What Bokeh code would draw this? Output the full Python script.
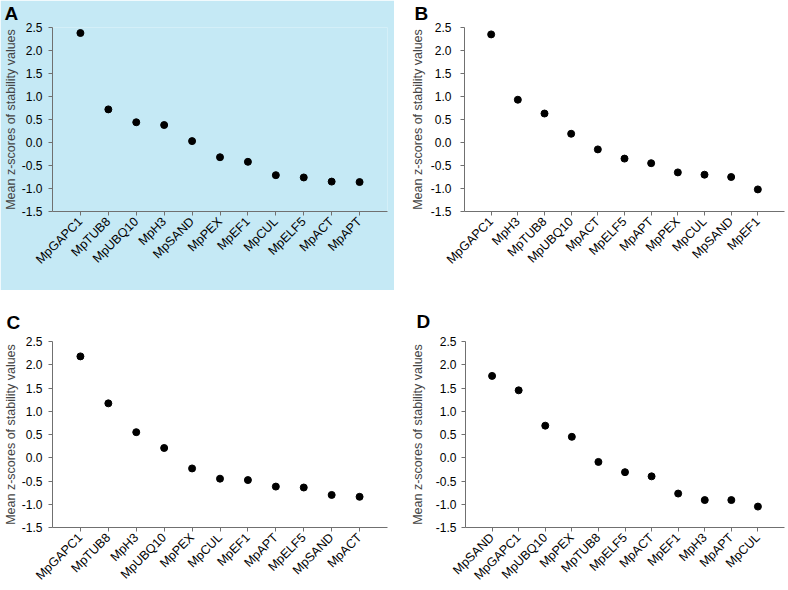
from bokeh.plotting import figure
from bokeh.models import Range1d, FactorRange, FixedTicker, NumeralTickFormatter
from bokeh.layouts import column, row
from bokeh.embed import file_html
from bokeh.resources import INLINE
from math import pi

# ---- data ----
genes_a = ["MpGAPC1", "MpTUB8", "MpUBQ10", "MpH3", "MpSAND", "MpPEX", "MpEF1", "MpCUL", "MpELF5", "MpACT", "MpAPT"]
z_a = [2.38, 0.72, 0.44, 0.38, 0.03, -0.32, -0.42, -0.71, -0.76, -0.85, -0.86]

genes_b = ["MpGAPC1", "MpH3", "MpTUB8", "MpUBQ10", "MpACT", "MpELF5", "MpAPT", "MpPEX", "MpCUL", "MpSAND", "MpEF1"]
z_b = [2.35, 0.93, 0.63, 0.19, -0.15, -0.35, -0.45, -0.65, -0.70, -0.75, -1.02]

genes_c = ["MpGAPC1", "MpTUB8", "MpH3", "MpUBQ10", "MpPEX", "MpCUL", "MpEF1", "MpAPT", "MpELF5", "MpSAND", "MpACT"]
z_c = [2.18, 1.17, 0.55, 0.21, -0.23, -0.45, -0.48, -0.62, -0.64, -0.80, -0.84]

genes_d = ["MpSAND", "MpGAPC1", "MpUBQ10", "MpPEX", "MpTUB8", "MpELF5", "MpACT", "MpEF1", "MpH3", "MpAPT", "MpCUL"]
z_d = [1.76, 1.45, 0.69, 0.45, -0.09, -0.31, -0.40, -0.77, -0.91, -0.91, -1.05]

y_ticks = [-1.5, -1.0, -0.5, 0.0, 0.5, 1.0, 1.5, 2.0, 2.5]
y_label = "Mean z-scores of stability values"

FONT = "Liberation Sans"
AXIS_COLOR = "#707070"
BLUE = "#c5e9f5"


def panel(letter, genes, vals, width, height, bl, br, bt, bb, tick_standoff, label_standoff,
          letter_dx, letter_standoff, bg=None):
    p = figure(width=width, height=height, output_backend="svg", toolbar_location=None,
               x_range=FactorRange(*genes, range_padding=1 / 11, range_padding_units="percent"),
               y_range=Range1d(-1.5, 2.5),
               min_border_left=bl, min_border_right=br, min_border_top=bt, min_border_bottom=bb)
    p.scatter(genes, vals, size=7, color="black")
    p.xgrid.visible = False
    p.ygrid.visible = False
    p.outline_line_color = None
    if bg is not None:
        p.background_fill_color = bg
        p.border_fill_color = bg
    else:
        p.background_fill_color = None
        p.border_fill_color = "white"

    # panel letter as the figure title
    p.title.text = letter
    p.title.text_font = FONT
    p.title.text_font_style = "bold"
    p.title.text_font_size = "19px"
    p.title.text_color = "black"
    p.title.align = "left"
    p.title.vertical_align = "top"
    p.title.offset = letter_dx
    p.title.standoff = letter_standoff

    p.yaxis.ticker = FixedTicker(ticks=y_ticks)
    p.yaxis.formatter = NumeralTickFormatter(format="0.0")
    p.yaxis.axis_label = y_label
    p.yaxis.axis_label_text_font = FONT
    p.yaxis.axis_label_text_font_size = "12.5px"
    p.yaxis.axis_label_text_font_style = "normal"
    p.yaxis.axis_label_standoff = label_standoff
    p.yaxis.minor_tick_line_color = None

    for ax in (p.xaxis, p.yaxis):
        ax.axis_line_color = AXIS_COLOR
        ax.major_tick_line_color = AXIS_COLOR
        ax.major_tick_in = 0
        ax.major_tick_out = 4
        ax.major_label_text_font = FONT
        ax.major_label_text_color = "black"
    p.yaxis.major_label_text_font_size = "12px"
    p.xaxis.major_label_text_font_size = "12.5px"
    p.yaxis.major_label_standoff = tick_standoff
    p.xaxis.major_label_orientation = pi / 4
    p.xaxis.major_label_standoff = 4
    return p


pa = panel("A", genes_a, z_a, 394, 290, 52, 7, 27, 79, 6, 1, -48, 3, bg=BLUE)
pb = panel("B", genes_b, z_b, 394, 290, 70, 4, 27, 79, 9, 3, -50, 3)
pc = panel("C", genes_c, z_c, 394, 300, 52, 7, 51, 62, 6, 1, -46, 13)
pd = panel("D", genes_d, z_d, 394, 300, 71, 4, 49, 62, 5, 8, -49, 16)

layout = column(row(pa, pb), row(pc, pd))

open("out.html", "w").write(file_html(layout, INLINE))
